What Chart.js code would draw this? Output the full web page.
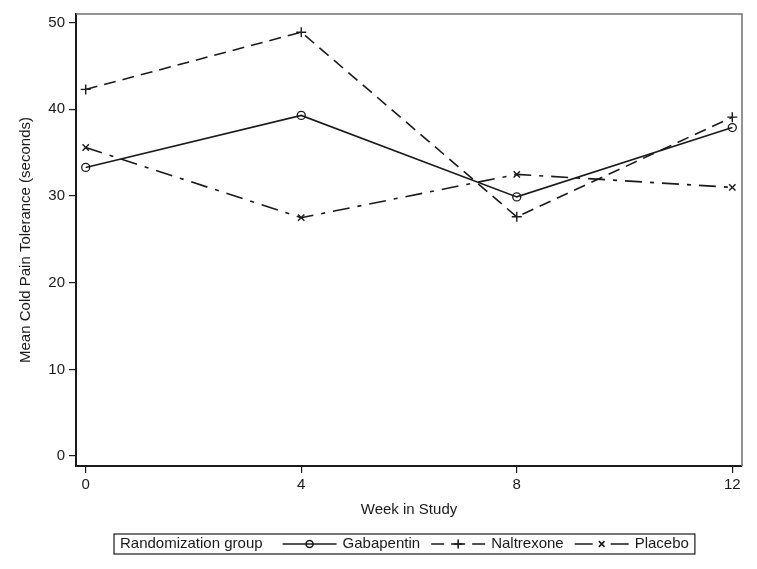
<!DOCTYPE html>
<html>
<head>
<meta charset="utf-8">
<title>Mean Cold Pain Tolerance</title>
<script src="https://cdn.jsdelivr.net/npm/chart.js@4.4.0/dist/chart.umd.min.js"></script>
<style>
  html, body { margin: 0; padding: 0; background: #fff; }
  #wrap { width: 757px; height: 569px; }
</style>
</head>
<body>
<div id="wrap"><canvas id="painChart"></canvas></div>
<script>
// data
const weeks = [0, 4, 8, 12];
const gabapentin = [33.3, 39.3, 29.9, 37.9];
const naltrexone = [42.3, 48.9, 27.6, 39.1];
const placebo = [35.6, 27.5, 32.5, 31.0];
const groupNames = ['Gabapentin', 'Naltrexone', 'Placebo'];
const legendTitle = 'Randomization group';

const FONT = '"Liberation Sans", Arial, sans-serif';
const INK = '#1a1a1a';

function toPoints(values) {
    return weeks.map((w, i) => ({ x: w, y: values[i] }));
}

// gray top and right frame of the plot area
const frameLines = {
    id: 'frameLines',
    beforeDatasetsDraw(chart) {
        const { ctx, chartArea: a } = chart;
        ctx.save();
        ctx.strokeStyle = '#707070';
        ctx.lineWidth = 1.5;
        ctx.beginPath();
        ctx.moveTo(a.left, a.top);
        ctx.lineTo(a.right, a.top);
        ctx.lineTo(a.right, a.bottom);
        ctx.stroke();
        ctx.restore();
    }
};

// boxed legend under the axis title
const legendBox = {
    id: 'legendBox',
    afterDraw(chart) {
        const ctx = chart.ctx;
        const top = 534, h = 20, left = 114;
        const cy = top + h / 2;
        ctx.save();
        ctx.font = '15px ' + FONT;
        ctx.textBaseline = 'middle';
        ctx.fillStyle = INK;

        let x = left + 6;
        ctx.fillText(legendTitle, x, cy);
        x += ctx.measureText(legendTitle).width + 20;

        chart.data.datasets.forEach(ds => {
            const sampleW = 54;
            ctx.strokeStyle = ds.borderColor;
            ctx.lineWidth = ds.borderWidth;
            ctx.setLineDash(ds.legendDash || []);
            ctx.beginPath();
            ctx.moveTo(x, cy);
            ctx.lineTo(x + sampleW, cy);
            ctx.stroke();
            ctx.setLineDash([]);
            ctx.fillStyle = 'rgba(0,0,0,0)';
            Chart.helpers.drawPoint(ctx, {
                pointStyle: ds.pointStyle,
                radius: ds.pointRadius - 0.5,
                borderWidth: ds.pointBorderWidth
            }, x + sampleW / 2, cy);
            x += sampleW + 6;
            ctx.fillStyle = INK;
            ctx.fillText(ds.label, x, cy);
            x += ctx.measureText(ds.label).width + 11;
        });

        ctx.strokeStyle = INK;
        ctx.lineWidth = 1.2;
        ctx.strokeRect(left, top, x - left - 5, h);
        ctx.restore();
    }
};

const ctx = document.getElementById('painChart').getContext('2d');

const painChart = new Chart(ctx, {
    type: 'line',
    data: {
        datasets: [{
            label: groupNames[0],
            data: toPoints(gabapentin),
            borderColor: INK,
            borderWidth: 1.6,
            pointStyle: 'circle',
            pointRadius: 4,
            pointBorderWidth: 1.3,
            pointBorderColor: INK,
            pointBackgroundColor: 'rgba(0,0,0,0)'
        }, {
            label: groupNames[1],
            data: toPoints(naltrexone),
            borderColor: INK,
            borderWidth: 1.6,
            borderDash: [12, 7],
            legendDash: [13, 7, 14, 7, 13],
            pointStyle: 'cross',
            pointRadius: 5,
            pointBorderWidth: 1.4,
            pointBorderColor: INK
        }, {
            label: groupNames[2],
            data: toPoints(placebo),
            borderColor: INK,
            borderWidth: 1.6,
            borderDash: [17, 8, 4, 8],
            legendDash: [18, 18, 18],
            pointStyle: 'crossRot',
            pointRadius: 4.5,
            pointBorderWidth: 1.4,
            pointBorderColor: INK
        }]
    },
    options: {
        responsive: true,
        maintainAspectRatio: false,
        animation: false,
        layout: { padding: { top: 14, right: 15, left: 0, bottom: 48 } },
        plugins: {
            legend: { display: false },
            tooltip: { enabled: false }
        },
        scales: {
            x: {
                type: 'linear',
                min: -0.18,
                max: 12.18,
                afterFit(scale) { scale.height = 55; },
                border: { color: INK, width: 2 },
                grid: { drawOnChartArea: false, drawTicks: true, tickLength: 7, color: INK, lineWidth: 1.2 },
                ticks: {
                    stepSize: 4,
                    includeBounds: false,
                    padding: 3,
                    color: INK,
                    font: { family: FONT, size: 15 },
                    maxRotation: 0
                },
                title: {
                    display: true,
                    text: 'Week in Study',
                    color: INK,
                    font: { family: FONT, size: 15 },
                    padding: { top: 0, bottom: 2 }
                }
            },
            y: {
                min: -1.15,
                max: 51.0,
                afterFit(scale) { scale.width = 76; },
                border: { color: INK, width: 2 },
                grid: { drawOnChartArea: false, drawTicks: true, tickLength: 7, color: INK, lineWidth: 1.2 },
                ticks: {
                    stepSize: 10,
                    includeBounds: false,
                    padding: 4,
                    color: INK,
                    font: { family: FONT, size: 15 }
                },
                title: {
                    display: true,
                    text: 'Mean Cold Pain Tolerance (seconds)',
                    color: INK,
                    font: { family: FONT, size: 15 },
                    padding: { top: 17, bottom: 0 }
                }
            }
        }
    },
    plugins: [frameLines, legendBox]
});
</script>
</body>
</html>
